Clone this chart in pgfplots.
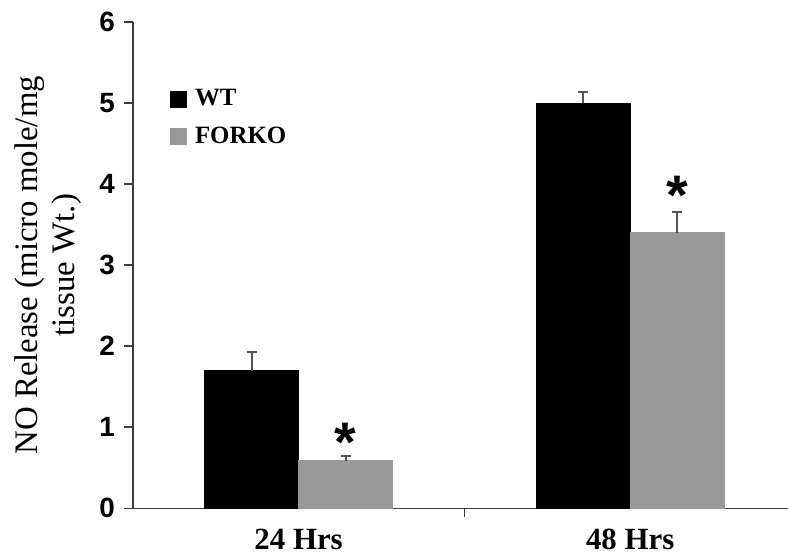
\documentclass[border=0pt]{standalone}
\usepackage{pgfplots}
\pgfplotsset{compat=1.18}
\usepackage{fontspec}
\setmainfont{Liberation Serif}
\newfontfamily\arialfont{Liberation Sans}
\definecolor{forko}{RGB}{153,153,153}
\definecolor{errc}{RGB}{85,85,85}
\definecolor{axc}{RGB}{60,60,60}
\begin{document}
\begin{tikzpicture}
\begin{axis}[
  name=ax,
  scale only axis, width=328bp, height=243.5bp,
  xmin=-0.5, xmax=1.476, ymin=0, ymax=6,
  axis x line*=bottom, axis y line*=left,
  axis line style={axc, line width=0.8bp},
  ytick={0,1,2,3,4,5,6},
  xtick={0.5}, xticklabels={},
  extra x ticks={0,1}, extra x tick labels={24 Hrs,48 Hrs},
  extra x tick style={major tick length=0pt, tick label style={font=\bfseries\fontsize{15.5}{15.5}\selectfont, yshift=-7bp}},
  tick align=outside, major tick length=4.5bp,
  tick style={axc, line width=0.8bp},
  /pgf/number format/assume math mode=true,
  y tick label style={font=\arialfont\bfseries\fontsize{14}{14}\selectfont, xshift=-1bp},
  ylabel={NO Release (micro mole/mg\\tissue Wt.)},
  ylabel style={align=center, font=\fontsize{16.5}{18.5}\selectfont, yshift=2bp},
  legend style={at={(0.0565,0.87)}, anchor=north west, draw=none, fill=none,
    font=\bfseries\fontsize{12.5}{12.5}\selectfont, row sep=5bp, inner sep=0pt,
    /tikz/every node/.append style={inner xsep=4bp}},
  legend cell align=left,
  legend image code/.code={\fill[#1] (0bp,-4bp) rectangle (8bp,4bp);},
]
\addplot[ybar, bar width=47bp, bar shift=0pt, fill=black, draw=black,
  error bars/.cd, y dir=plus, y explicit,
  error bar style={errc, line width=1bp}, error mark options={errc, line width=1bp, mark size=2.5bp, rotate=90}]
  coordinates {(-0.1416,1.70) +- (0,0.23) (0.8584,5.00) +- (0,0.13)};
\addlegendentry{WT}
\addplot[ybar, bar width=47bp, bar shift=0pt, fill=forko, draw=forko,
  error bars/.cd, y dir=plus, y explicit,
  error bar style={errc, line width=1bp}, error mark options={errc, line width=1bp, mark size=2.5bp, rotate=90}]
  coordinates {(0.1416,0.59) +- (0,0.06) (1.1416,3.40) +- (0,0.25)};
\addlegendentry{FORKO}
\addplot[draw=none, mark=none, forget plot,
  nodes near coords={\arialfont\bfseries\fontsize{28}{28}\selectfont *},
  every node near coord/.append style={anchor=base, yshift=-15bp, inner sep=0pt}]
  coordinates {(0.1416,0.95) (1.1416,3.99)};
\end{axis}
\pgfresetboundingbox
\path[use as bounding box] ([xshift=-66.5bp, yshift=-23bp]ax.south west) rectangle ([yshift=11bp]ax.north east);
\end{tikzpicture}
\end{document}
